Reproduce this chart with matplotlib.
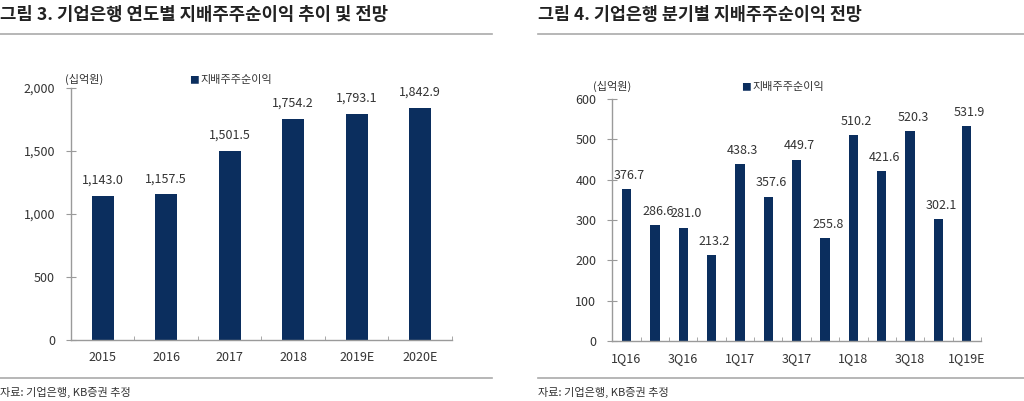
import matplotlib.pyplot as plt
import numpy as np

plt.rcParams['font.family'] = ['Noto Sans CJK KR', 'DejaVu Sans']

# 연도별 데이터
years = ['2015', '2016', '2017', '2018', '2019E', '2020E']
annual_profit = [1143.0, 1157.5, 1501.5, 1754.2, 1793.1, 1842.9]

# 분기별 데이터
quarters = ['1Q16', '2Q16', '3Q16', '4Q16', '1Q17', '2Q17', '3Q17', '4Q17',
            '1Q18', '2Q18', '3Q18', '4Q18', '1Q19E']
quarter_profit = [376.7, 286.6, 281.0, 213.2, 438.3, 357.6, 449.7, 255.8,
                  510.2, 421.6, 520.3, 302.1, 531.9]

BAR = '#0b2e5e'
AXIS = '#9a9a9a'
TEXT = '#333333'


def style_axes(ax, n):
    for s in ['top', 'right']:
        ax.spines[s].set_visible(False)
    for s in ['left', 'bottom']:
        ax.spines[s].set_color(AXIS)
        ax.spines[s].set_linewidth(1.0)
    ax.tick_params(axis='y', direction='inout', length=7, color=AXIS,
                   labelsize=9, labelcolor=TEXT, pad=8)
    ax.tick_params(axis='x', which='major', length=0, labelsize=9,
                   labelcolor=TEXT, pad=8)
    ax.set_xticks(np.arange(n + 1) - 0.5, minor=True)
    ax.tick_params(axis='x', which='minor', direction='in', length=3, color=AXIS)
    ax.set_xlim(-0.5, n - 0.5)


fig = plt.figure(figsize=(10.24, 4.01), dpi=100)

# titles and rules
fig.text(0.0, 0.962, '그림 3. 기업은행 연도별 지배주주순이익 추이 및 전망',
         fontsize=12.8, fontweight='bold', color='#222222', va='center')
fig.text(0.525, 0.962, '그림 4. 기업은행 분기별 지배주주순이익 전망',
         fontsize=12.5, fontweight='bold', color='#222222', va='center')
for x0, x1 in [(0.0, 0.48), (0.525, 1.0)]:
    fig.add_artist(plt.Line2D([x0, x1], [0.915, 0.915], color='#aaaaaa', lw=1.2))
    fig.add_artist(plt.Line2D([x0, x1], [0.057, 0.057], color='#aaaaaa', lw=1.2))
fig.text(0.0, 0.022, '자료: 기업은행, KB증권 추정', fontsize=8, color=TEXT, va='center')
fig.text(0.525, 0.022, '자료: 기업은행, KB증권 추정', fontsize=8, color=TEXT, va='center')

# left chart
ax1 = fig.add_axes([0.0693, 0.152, 0.372, 0.629])
x1 = np.arange(len(years))
ax1.bar(x1, annual_profit, width=0.35, color=BAR)
ax1.set_ylim(0, 2000)
ax1.set_yticks([0, 500, 1000, 1500, 2000])
ax1.set_yticklabels(['{:,}'.format(v) for v in [0, 500, 1000, 1500, 2000]])
ax1.set_xticks(x1)
ax1.set_xticklabels(years)
style_axes(ax1, len(years))
for xi, v in zip(x1, annual_profit):
    ax1.text(xi, v + 70, '{:,.1f}'.format(v), ha='center', va='bottom',
             fontsize=9, color=TEXT)
ax1.text(0.035, 1.01, '(십억원)', transform=ax1.transAxes, fontsize=8,
         color=TEXT, ha='center', va='bottom')
ax1.text(0.31, 1.01, '■', transform=ax1.transAxes, fontsize=7, color=BAR,
         va='bottom')
ax1.text(0.34, 1.01, '지배주주순이익', transform=ax1.transAxes, fontsize=8,
         color=TEXT, va='bottom')

# right chart
ax2 = fig.add_axes([0.598, 0.150, 0.360, 0.603])
x2 = np.arange(len(quarters))
ax2.bar(x2, quarter_profit, width=0.33, color=BAR)
ax2.set_ylim(0, 600)
ax2.set_yticks(range(0, 601, 100))
ax2.set_xticks(x2[::2])
ax2.set_xticklabels(quarters[::2])
style_axes(ax2, len(quarters))
for xi, v in zip(x2, quarter_profit):
    ax2.text(xi + 0.1, v + 18, '{:.1f}'.format(v), ha='center', va='bottom',
             fontsize=9, color=TEXT)
ax2.text(0.0, 1.03, '(십억원)', transform=ax2.transAxes, fontsize=8,
         color=TEXT, ha='center', va='bottom')
ax2.text(0.35, 1.03, '■', transform=ax2.transAxes, fontsize=7, color=BAR,
         va='bottom')
ax2.text(0.38, 1.03, '지배주주순이익', transform=ax2.transAxes, fontsize=8,
         color=TEXT, va='bottom')

fig.savefig('out.png', dpi=100)
